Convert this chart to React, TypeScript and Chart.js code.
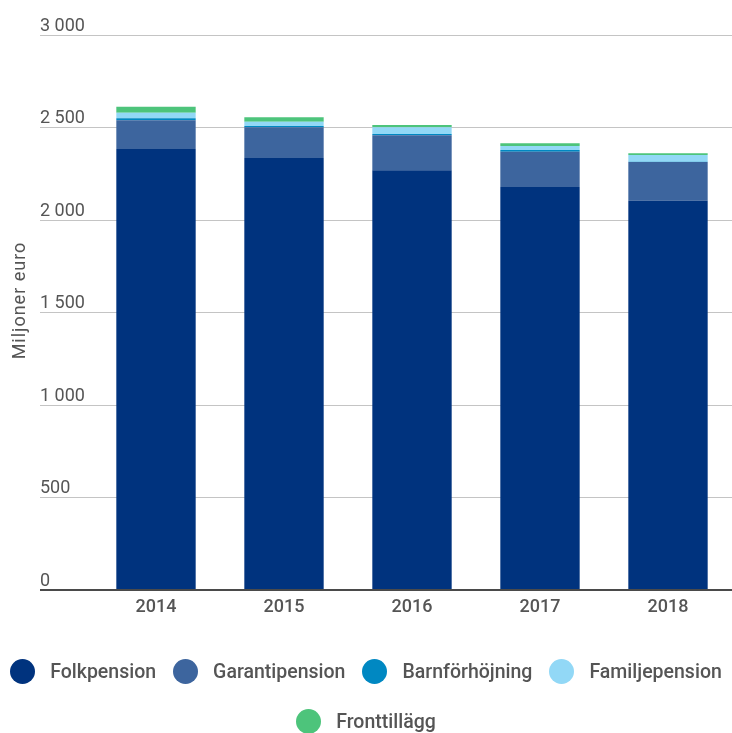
import React, { useEffect, useRef } from "react";
import { Chart, registerables } from "chart.js";

Chart.register(...registerables);

const years = ["2014", "2015", "2016", "2017", "2018"];
const folkpension = [2384, 2335, 2269, 2178, 2104];
const garantipension = [155, 166, 189, 191, 209];
const barnforhojning = [11, 7, 7, 9, 2];
const familjepension = [30, 23, 36, 22, 36];
const fronttillagg = [32, 24, 13, 15, 10];

const seriesNames = ["Folkpension", "Garantipension", "Barnförhöjning", "Familjepension", "Fronttillägg"];
const seriesColors = ["#00337e", "#3d659e", "#0088c2", "#92d8f6", "#4dc47b"];
const seriesData = [folkpension, garantipension, barnforhojning, familjepension, fronttillagg];

const yTitle = "Miljoner euro";
const FONT = "Roboto, 'Noto Sans', sans-serif";

function fmt(v: number) {
  return String(v).replace(/\B(?=(\d{3})+(?!\d))/g, " ");
}

const titlePlugin = {
  id: "ytitle",
  afterDraw(chart: any) {
    const { ctx, chartArea } = chart;
    ctx.save();
    ctx.translate(20, (chartArea.top + chartArea.bottom) / 2 - 12);
    ctx.rotate(-Math.PI / 2);
    ctx.font = `18px ${FONT}`;
    try {
      (ctx as any).letterSpacing = "1px";
    } catch (e) {}
    ctx.fillStyle = "#555";
    ctx.textAlign = "center";
    ctx.textBaseline = "middle";
    ctx.fillText(yTitle, 0, 0);
    ctx.restore();
  },
};

export default function App() {
  const ref = useRef<HTMLCanvasElement | null>(null);

  useEffect(() => {
    if (!ref.current) return;
    const gridColor = (c: any) => (c.tick && c.tick.value === 0 ? "#4a4a4a" : "#c4c4c4");
    const gridWidth = (c: any) => (c.tick && c.tick.value === 0 ? 2 : 1);
    const chart = new Chart(ref.current, {
      type: "bar",
      data: {
        labels: years,
        datasets: seriesNames.map((n, i) => ({
          label: n,
          data: seriesData[i],
          backgroundColor: seriesColors[i],
          borderWidth: 0,
          barPercentage: 0.62,
          categoryPercentage: 1,
        })),
      },
      options: {
        animation: false,
        responsive: false,
        maintainAspectRatio: false,
        layout: { padding: { left: 40, top: 35, right: 0, bottom: 0 } },
        plugins: {
          legend: { display: false },
          tooltip: { enabled: false },
        },
        scales: {
          x: {
            stacked: true,
            grid: { display: false, drawTicks: false },
            border: { display: false },
            ticks: {
              color: "#555",
              font: { family: FONT, size: 18, weight: "500" },
              padding: 7,
            },
            afterFit: (s: any) => {
              s.height = 50;
            },
          },
          y: {
            stacked: true,
            min: 0,
            max: 3000,
            border: { display: false },
            grid: {
              color: gridColor,
              tickColor: gridColor,
              lineWidth: gridWidth,
              tickLength: 52,
              drawTicks: true,
            },
            ticks: {
              stepSize: 500,
              color: "#555",
              font: { family: FONT, size: 18 },
              padding: 0,
              crossAlign: "far",
              align: "end",
              callback: (v: any) => fmt(Number(v)),
            },
            afterFit: (s: any) => {
              s.width = 52;
            },
          },
        },
      },
      plugins: [titlePlugin],
    });
    return () => chart.destroy();
  }, []);

  return (
    <div style={{ position: "fixed", left: 0, top: 0, width: 732, height: 733, background: "#fff", fontFamily: FONT }}>
      <canvas ref={ref} width={732} height={640} style={{ display: "block", width: 732, height: 640 }} />
      <div
        style={{
          position: "absolute",
          left: 0,
          top: 659,
          width: 732,
          display: "flex",
          flexWrap: "wrap",
          justifyContent: "center",
          columnGap: 17,
          rowGap: 25,
        }}
      >
        {seriesNames.map((n, i) => (
          <div key={n} style={{ display: "flex", alignItems: "center", height: 25 }}>
            <span
              style={{
                display: "inline-block",
                width: 25,
                height: 25,
                borderRadius: "50%",
                background: seriesColors[i],
                marginRight: 15,
              }}
            />
            <span style={{ fontSize: 19.5, fontWeight: 500, color: "#555", lineHeight: "25px", whiteSpace: "nowrap" }}>
              {n}
            </span>
          </div>
        ))}
      </div>
    </div>
  );
}
